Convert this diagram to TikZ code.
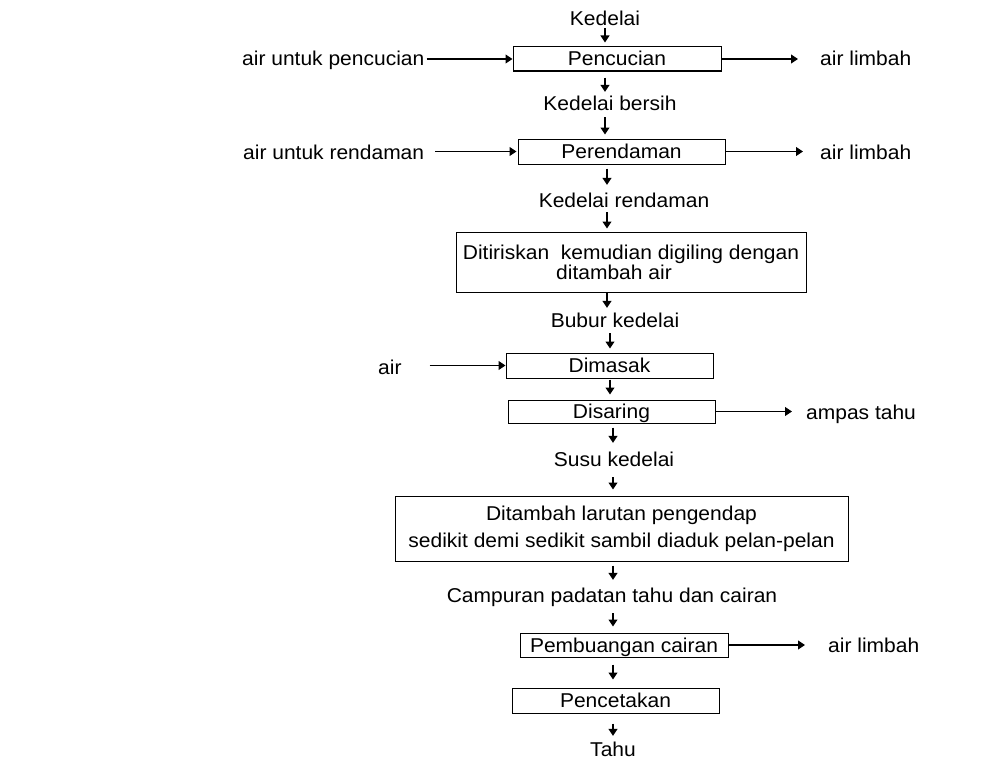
\documentclass[tikz,border=0pt]{standalone}
\usepackage{fontspec}
\setmainfont[FakeStretch=1.05]{Liberation Sans}
\usetikzlibrary{arrows.meta}
\begin{document}
\begin{tikzpicture}[x=1pt,y=-1pt,
  txt/.style={inner sep=0pt, text height=14pt, text depth=0pt, font=\fontsize{20}{20}\selectfont},
  procbox/.style={draw, line width=1pt, fill=white, inner sep=0pt, font=\fontsize{20}{20}\selectfont},
  onebox/.style={procbox, text height=14pt, text depth=0pt},
  arr/.style={line width=1.1pt, -{Triangle[length=7pt,width=9pt]}}]
\useasboundingbox (0,0) rectangle (982,760);
% column coordinates for vertical arrows
\coordinate (cA) at (605,0);
\coordinate (cB) at (607,0);
\coordinate (cC) at (610,0);
\coordinate (cD) at (613,0);
% texts
\node[txt] (kedelai) at (605,19) {Kedelai};
\node[txt, anchor=west] (airpc) at (242,59) {air untuk pencucian};
\node[txt, anchor=west] (limbah1) at (820,59) {air limbah};
\node[txt] (bersih) at (610,103) {Kedelai bersih};
\node[txt, anchor=west] (airrd) at (243,152) {air untuk rendaman};
\node[txt, anchor=west] (limbah2) at (820,152) {air limbah};
\node[txt] (rendaman) at (624,200) {Kedelai rendaman};
\node[txt] (bubur) at (615,320) {Bubur kedelai};
\node[txt, anchor=west] (air) at (378,367) {air};
\node[txt, anchor=west] (ampas) at (806,412) {ampas tahu};
\node[txt] (susu) at (614,459) {Susu kedelai};
\node[txt] (campuran) at (612,595) {Campuran padatan tahu dan cairan};
\node[txt, anchor=west] (limbah3) at (828,645) {air limbah};
\node[txt] (tahu) at (613,749) {Tahu};
% boxes
\node[onebox, minimum width=208pt, minimum height=24pt] (pencucian) at (617,59) {Pencucian};
\node[onebox, minimum width=207pt, minimum height=25pt] (perendaman) at (621.5,151.5) {Perendaman};
\node[procbox, align=center, minimum width=350pt, minimum height=60pt] (ditiriskan) at (631,262)
  {Ditiriskan\ \ kemudian digiling dengan\\ditambah air\hspace{34pt}\null};
\node[onebox, minimum width=207pt, minimum height=25pt] (dimasak) at (609.5,365.5) {Dimasak};
\node[onebox, minimum width=207pt, minimum height=23pt] (disaring) at (611.5,411.5) {Disaring};
\node[procbox, align=center, minimum width=453pt, minimum height=65pt, font=\fontsize{20}{27}\selectfont] (ditambah) at (621.5,528.5)
  {Ditambah larutan pengendap\\sedikit demi sedikit sambil diaduk pelan-pelan};
\node[onebox, minimum width=208pt, minimum height=24pt] (pembuangan) at (624,645) {Pembuangan cairan};
\node[onebox, minimum width=207pt, minimum height=25pt] (pencetakan) at (615.5,700.5) {Pencetakan};
% vertical arrows
\draw[arr, shorten <=2pt, shorten >=4pt] (kedelai.south -| cA) -- (pencucian.north -| cA);
\draw[arr, shorten <=6pt, shorten >=4pt] (pencucian.south -| cA) -- (bersih.north -| cA);
\draw[arr, shorten <=7pt, shorten >=4pt] (bersih.south -| cA) -- (perendaman.north -| cA);
\draw[arr, shorten <=4pt, shorten >=8pt] (perendaman.south -| cB) -- (rendaman.north -| cB);
\draw[arr, shorten <=5pt, shorten >=3pt] (rendaman.south -| cB) -- (ditiriskan.north -| cB);
\draw[arr, shorten >=5pt] (ditiriskan.south -| cB) -- (bubur.north -| cB);
\draw[arr, shorten <=6pt, shorten >=4pt] (bubur.south -| cC) -- (dimasak.north -| cC);
\draw[arr, shorten <=1pt, shorten >=5pt] (dimasak.south -| cC) -- (disaring.north -| cC);
\draw[arr, shorten <=4pt, shorten >=9pt] (disaring.south -| cD) -- (susu.north -| cD);
\draw[arr, shorten <=11pt, shorten >=6pt] (susu.south -| cD) -- (ditambah.north -| cD);
\draw[arr, shorten <=4pt, shorten >=8pt] (ditambah.south -| cD) -- (campuran.north -| cD);
\draw[arr, shorten <=11pt, shorten >=6pt] (campuran.south -| cD) -- (pembuangan.north -| cD);
\draw[arr, shorten <=7pt, shorten >=8pt] (pembuangan.south -| cD) -- (pencetakan.north -| cD);
\draw[arr, shorten <=10pt, shorten >=6pt] (pencetakan.south -| cD) -- (tahu.north -| cD);
% horizontal arrows
\draw[arr, shorten <=2pt] (pencucian.west -| airpc.east) -- (pencucian.west);
\draw[arr, shorten >=22pt] (pencucian.east) -- (pencucian.east -| limbah1.west);
\draw[arr, shorten <=11pt, shorten >=1pt] (perendaman.west -| airrd.east) -- (perendaman.west);
\draw[arr, shorten >=17pt] (perendaman.east) -- (perendaman.east -| limbah2.west);
\draw[arr, shorten <=28pt] (dimasak.west -| air.east) -- (dimasak.west);
\draw[arr, shorten >=14pt] (disaring.east) -- (disaring.east -| ampas.west);
\draw[arr, shorten >=23pt] (pembuangan.east) -- (pembuangan.east -| limbah3.west);
\end{tikzpicture}
\end{document}
